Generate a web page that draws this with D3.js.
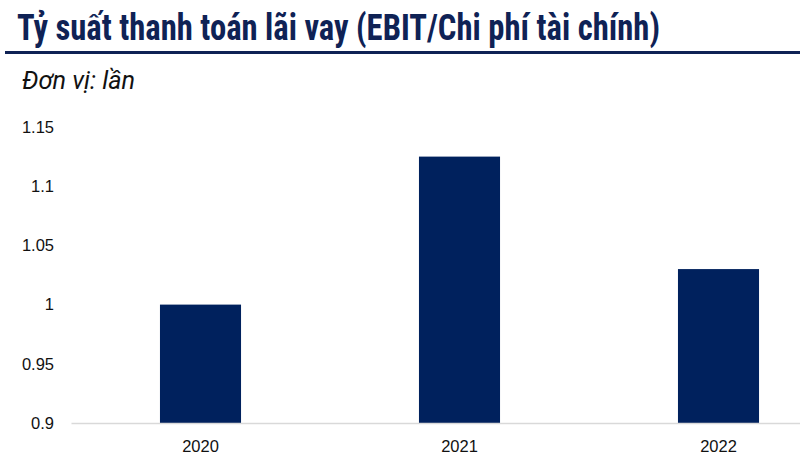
<!DOCTYPE html>
<html><head><meta charset="utf-8">
<script src="https://cdn.jsdelivr.net/npm/d3@7"></script>
<style>body{margin:0;background:#fff}svg{display:block}</style>
</head><body>
<svg id="c" width="800" height="473"></svg>
<script>
const categories = ["2020", "2021", "2022"];
const values = [1.0, 1.125, 1.03];
const yTicks = [0.9, 0.95, 1, 1.05, 1.1, 1.15];
const title = "Tỷ suất thanh toán lãi vay (EBIT/Chi phí tài chính)";
const unit = "Đơn vị: lần";

const svg = d3.select("#c");
const navy = "#0f2255";

svg.append("text").attr("x", 17).attr("y", 40)
  .attr("font-family", "'Liberation Sans Narrow','Roboto Condensed',Roboto,sans-serif")
  .attr("font-weight", "bold").attr("font-size", 36).attr("fill", navy)
  .attr("textLength", 643).attr("lengthAdjust", "spacingAndGlyphs")
  .text(title);
svg.append("rect").attr("x", 5).attr("y", 51).attr("width", 795).attr("height", 3).attr("fill", navy);

svg.append("text").attr("x", 22).attr("y", 89)
  .attr("font-family", "'Liberation Sans Narrow',Roboto,sans-serif")
  .attr("font-style", "italic").attr("font-size", 25).attr("fill", "#111")
  .attr("textLength", 113).attr("lengthAdjust", "spacingAndGlyphs")
  .text(unit);

const y = d3.scaleLinear().domain([0.9, 1.15]).range([423, 127]);
const x = d3.scaleBand().domain(categories).range([71, 848]).paddingInner(0.687).paddingOuter(0.3435);

const yAxis = svg.append("g").attr("transform", "translate(71,0)")
  .call(d3.axisLeft(y).tickValues(yTicks).tickFormat(d => String(+d.toFixed(2))).tickSize(0).tickPadding(17));
yAxis.select(".domain").remove();
yAxis.selectAll("text").attr("font-family", "'Liberation Sans',Arial,sans-serif").attr("font-size", 16.5).attr("fill", "#111");

svg.selectAll("rect.bar").data(values).enter().append("rect").attr("class", "bar")
  .attr("x", (d, i) => x(categories[i])).attr("width", x.bandwidth())
  .attr("y", d => y(d)).attr("height", d => y(0.9) - y(d))
  .attr("fill", "#00215d");

const xAxis = svg.append("g").attr("transform", "translate(0,423)")
  .call(d3.axisBottom(x).tickSize(0).tickPadding(17));
xAxis.select(".domain").attr("stroke", "#d9d9d9").attr("stroke-width", 1.5);
xAxis.selectAll("text").attr("font-family", "'Liberation Sans',Arial,sans-serif").attr("font-size", 16.5).attr("fill", "#111");
</script>
</body></html>
